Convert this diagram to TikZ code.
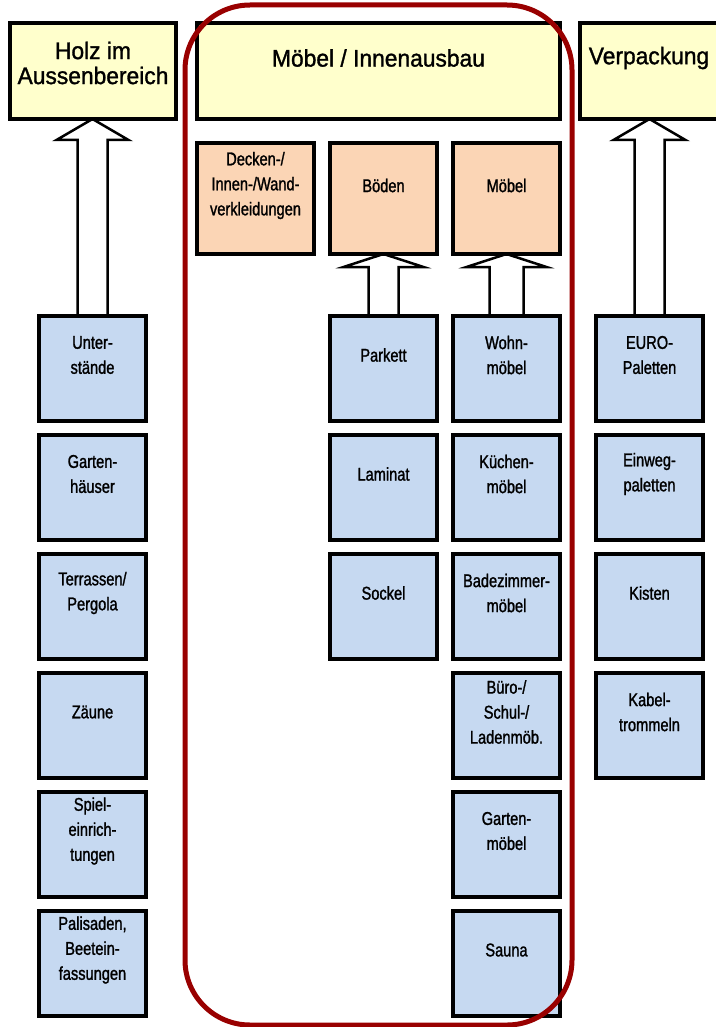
\documentclass[tikz,border=0pt]{standalone}
\usepackage{fontspec}
\setmainfont{Liberation Sans}
\newfontfamily\boxfont[FakeStretch=0.79, FakeBold=1.3]{Liberation Sans}
\newfontfamily\titlefont[FakeStretch=0.95, FakeBold=1.3]{Liberation Sans}
\usetikzlibrary{positioning, calc, backgrounds}

\definecolor{headyellow}{RGB}{255,255,204}
\definecolor{catpeach}{RGB}{251,213,181}
\definecolor{itemblue}{RGB}{198,217,241}
\definecolor{framered}{RGB}{153,0,0}

\begin{document}
\begin{tikzpicture}[
    x=1pt, y=-1pt,
    % box styles
    box/.style={draw, line width=3.2pt, rectangle, inner sep=0pt, outer sep=0pt},
    head/.style={box, fill=headyellow, minimum height=96pt},
    cat/.style={box, fill=catpeach, minimum width=107pt, minimum height=111pt},
    item/.style={box, fill=itemblue, minimum width=107pt, minimum height=105pt},
    % text inside the boxes sits in the upper part
    head text/.style={anchor=center, yshift=-35pt, align=center, font=\titlefont\fontsize{24}{25}\selectfont},
    cat text/.style={anchor=center, yshift=-42.5pt, align=center, font=\boxfont\fontsize{18.5}{25}\selectfont},
    box text/.style={anchor=center, yshift=-39pt, align=center, font=\boxfont\fontsize{18.5}{25}\selectfont},
    % block arrow: #1 half shaft, #2 half head, #3 head length
    fat arrow/.style n args={3}{draw, line width=2.5pt, fill=white, line join=miter,
        to path={($(\tikztostart)+(-#1,0)$) -- ($(\tikztotarget)+(-#1,#3)$)
            -- ($(\tikztotarget)+(-#2,#3)$) -- (\tikztotarget)
            -- ($(\tikztotarget)+(#2,#3)$) -- ($(\tikztotarget)+(#1,#3)$)
            -- ($(\tikztostart)+(#1,0)$) -- cycle}},
    frame/.style={draw=framered, line width=5pt, rounded corners=65pt}
]
    \useasboundingbox (0,0) rectangle (715,1027);

    % --- 1. top boxes ---
    \node[head, minimum width=166pt, label={[head text, yshift=-5pt]north:{Holz im\\Aussenbereich}}] (holz) at (93,71) {};
    \node[head, minimum width=363pt, label={[head text]north:{Möbel / Innenausbau}}] (moebelbau) at (378.5,71) {};
    \node[head, minimum width=138pt, label={[head text]north:{Verpackung}}] (verp) at (649,71) {};

    % --- 2. categories ---
    \node[cat, minimum width=117pt, label={[cat text]north:{Decken-/\\Innen-/Wand-\\verkleidungen}}] (decken) at (255.5,198.5) {};
    \node[cat, label={[cat text]north:{Böden}}] (boeden) at (383.5,198.5) {};
    \node[cat, label={[cat text]north:{Möbel}}] (moebel) at (506.5,198.5) {};

    % --- 3. products, column by column ---
    \node[item, label={[box text]north:{Unter-\\stände}}] (unterst) at (92.5,368.5) {};
    \node[item, below=14pt of unterst, label={[box text]north:{Garten-\\häuser}}] (gartenh) {};
    \node[item, below=14pt of gartenh, label={[box text]north:{Terrassen/\\Pergola}}] (terrasse) {};
    \node[item, below=14pt of terrasse, label={[box text]north:{Zäune}}] (zaeune) {};
    \node[item, below=14pt of zaeune, label={[box text]north:{Spiel-\\einrich-\\tungen}}] (spiel) {};
    \node[item, below=14pt of spiel, label={[box text]north:{Palisaden,\\Beetein-\\fassungen}}] (palis) {};

    \node[item, label={[box text]north:{Parkett}}] (parkett) at (383.5,368.5) {};
    \node[item, below=14pt of parkett, label={[box text]north:{Laminat}}] (laminat) {};
    \node[item, below=14pt of laminat, label={[box text]north:{Sockel}}] (sockel) {};

    \node[item, label={[box text]north:{Wohn-\\möbel}}] (wohn) at (506.5,368.5) {};
    \node[item, below=14pt of wohn, label={[box text]north:{Küchen-\\möbel}}] (kueche) {};
    \node[item, below=14pt of kueche, label={[box text]north:{Badezimmer-\\möbel}}] (bad) {};
    \node[item, below=14pt of bad, label={[box text]north:{Büro-/\\Schul-/\\Ladenmöb.}}] (buero) {};
    \node[item, below=14pt of buero, label={[box text]north:{Garten-\\möbel}}] (gartenm) {};
    \node[item, below=14pt of gartenm, label={[box text]north:{Sauna}}] (sauna) {};

    \node[item, label={[box text]north:{EURO-\\Paletten}}] (euro) at (649.5,368.5) {};
    \node[item, below=14pt of euro, label={[box text]north:{Einweg-\\paletten}}] (einweg) {};
    \node[item, below=14pt of einweg, label={[box text]north:{Kisten}}] (kisten) {};
    \node[item, below=14pt of kisten, label={[box text]north:{Kabel-\\trommeln}}] (kabel) {};

    % --- 4. block arrows (behind the boxes) ---
    \begin{pgfonlayer}{background}
        \draw[fat arrow={15}{36}{21}] (unterst.north) to (unterst.north |- holz.south);
        \draw[fat arrow={15}{36}{21}] (euro.north) to (euro.north |- verp.south);
        \draw[fat arrow={15}{40}{13}] (parkett.north) to (boeden.south);
        \draw[fat arrow={17}{40}{13}] (wohn.north) to (moebel.south);
    \end{pgfonlayer}

    % --- 5. red frame round the furniture column ---
    \draw[frame] (185,5) rectangle (572,1025);

\end{tikzpicture}
\end{document}
